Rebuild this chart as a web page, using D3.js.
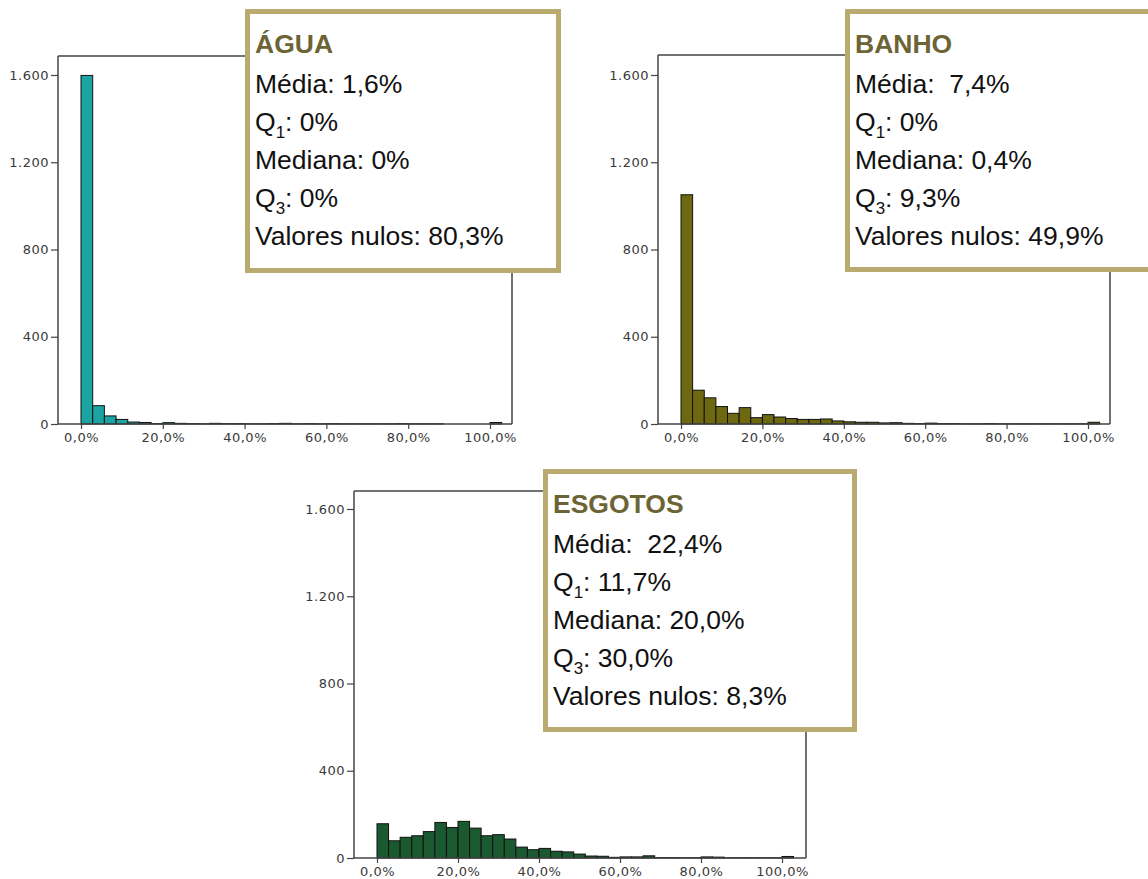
<!DOCTYPE html>
<html>
<head>
<meta charset="utf-8">
<script src="https://cdn.jsdelivr.net/npm/d3@7"></script>
<style>
  html, body { margin: 0; padding: 0; background: #fff; }
  svg { display: block; }
  .box text { white-space: pre; }
</style>
</head>
<body>
<svg id="chart" width="1148" height="879"></svg>
<script>
// ---- data ----
const binCount = 36;                    // histogram bins of 1/35 of the range
const binWidthPct = 100 / 35;
const aguaCounts    = [1598, 84, 37, 21, 9, 7, 2, 6, 3, 2, 1, 3, 2, 2, 1, 1, 2, 3, 1, 2, 1, 2, 1, 1, 1, 1, 1, 2, 1, 1, 1, 0, 0, 0, 0, 7];
const banhoCounts   = [1051, 155, 120, 80, 49, 75, 29, 43, 32, 25, 21, 21, 23, 14, 10, 8, 8, 5, 6, 3, 2, 4, 2, 2, 1, 1, 2, 1, 1, 1, 1, 1, 1, 1, 1, 8];
const esgotosCounts = [157, 79, 95, 102, 121, 163, 140, 168, 137, 102, 107, 87, 50, 38, 44, 31, 28, 18, 9, 8, 3, 5, 5, 10, 2, 2, 1, 1, 5, 4, 1, 1, 1, 1, 1, 7];
const yTicks = [0, 400, 800, 1200, 1600];
const yTickLabels = ["0", "400", "800", "1.200", "1.600"];
const xTicks = [0, 20, 40, 60, 80, 100];
const xTickLabels = ["0,0%", "20,0%", "40,0%", "60,0%", "80,0%", "100,0%"];
const titles = ["ÁGUA", "BANHO", "ESGOTOS"];
const medias = ["1,6%", " 7,4%", " 22,4%"];
const q1s = ["0%", "0%", "11,7%"];
const medianas = ["0%", "0,4%", "20,0%"];
const q3s = ["0%", "9,3%", "30,0%"];
const nulos = ["80,3%", "49,9%", "8,3%"];

// ---- layout ----
const panels = [
  { counts: aguaCounts,    color: "#1ba4a1", frame: {l: 58,  t: 56,  r: 512,  b: 424}, x0: 81,  x100: 490,  y1600: 75,  box: {l: 245, t: 9,   w: 316, h: 264} },
  { counts: banhoCounts,   color: "#6e6810", frame: {l: 658, t: 55,  r: 1110, b: 424}, x0: 681, x100: 1088, y1600: 75,  box: {l: 845, t: 9,   w: 316, h: 263} },
  { counts: esgotosCounts, color: "#1b5a30", frame: {l: 354, t: 491, r: 806,  b: 858}, x0: 377, x100: 782,  y1600: 509, box: {l: 543, t: 469, w: 314, h: 263} }
];

const svg = d3.select("#chart");

panels.forEach((p, i) => {
  const g = svg.append("g");
  const x = d3.scaleLinear().domain([0, 100]).range([p.x0, p.x100]);
  const y = d3.scaleLinear().domain([0, 1600]).range([p.frame.b, p.y1600]);

  const bins = p.counts.map((c, k) => ({ x0: k * binWidthPct, x1: (k + 1) * binWidthPct, c }));

  // bars
  g.selectAll("rect.bar").data(bins.filter(d => d.c > 0)).join("rect")
    .attr("class", "bar")
    .attr("x", d => x(d.x0))
    .attr("width", d => x(d.x1) - x(d.x0))
    .attr("y", d => y(d.c))
    .attr("height", d => y(0) - y(d.c))
    .attr("fill", p.color)
    .attr("stroke", "#111")
    .attr("stroke-width", 1);

  // frame (top and right)
  g.append("path")
    .attr("d", `M${p.frame.l},${p.frame.t}H${p.frame.r}V${p.frame.b}`)
    .attr("fill", "none").attr("stroke", "#444").attr("stroke-width", 1.5);

  // y axis
  const yAxis = d3.axisLeft(y).tickValues(yTicks)
    .tickFormat((d, k) => yTickLabels[k]).tickSize(7).tickPadding(2);
  const ya = g.append("g").attr("transform", `translate(${p.frame.l},0)`).call(yAxis);
  ya.select(".domain").attr("d", `M0,${p.frame.t}V${p.frame.b}`).attr("stroke", "#444").attr("stroke-width", 1.5);

  // x axis
  const xAxis = d3.axisBottom(x).tickValues(xTicks)
    .tickFormat((d, k) => xTickLabels[k]).tickSize(5).tickPadding(4);
  const xa = g.append("g").attr("transform", `translate(0,${p.frame.b})`).call(xAxis);
  xa.select(".domain").attr("d", `M${p.frame.l},0H${p.frame.r}`).attr("stroke", "#444").attr("stroke-width", 1.5);

  [ya, xa].forEach(a => {
    a.selectAll(".tick line").attr("stroke", "#444").attr("stroke-width", 1.2);
    a.selectAll(".tick text")
      .attr("fill", "#3a3a3a")
      .style("font-family", "'DejaVu Sans', Verdana, sans-serif")
      .style("font-size", "13px")
      .style("letter-spacing", "0.5px");
  });

  // info box
  const b = p.box;
  const bg = svg.append("g").attr("class", "box");
  bg.append("rect")
    .attr("x", b.l + 2.5).attr("y", b.t + 2.5)
    .attr("width", b.w - 5).attr("height", b.h - 5)
    .attr("fill", "#fff").attr("stroke", "#b9aa70").attr("stroke-width", 5);

  const tx = b.l + 10;
  const font = "'Liberation Sans', Arial, sans-serif";
  bg.append("text").attr("x", tx).attr("y", b.t + 44)
    .style("font-family", font).style("font-size", "26.5px").style("font-weight", "bold")
    .attr("fill", "#6d6436").text(titles[i]);

  const lines = [
    [["Média: " + medias[i]]],
    [["Q"], ["1", "sub"], [": " + q1s[i]]],
    [["Mediana: " + medianas[i]]],
    [["Q"], ["3", "sub"], [": " + q3s[i]]],
    [["Valores nulos: " + nulos[i]]]
  ];
  lines.forEach((parts, j) => {
    const t = bg.append("text").attr("x", tx).attr("y", b.t + 84 + j * 38)
      .style("font-family", font).style("font-size", "26.5px").attr("fill", "#111");
    parts.forEach(([s, kind]) => {
      if (kind === "sub") {
        t.append("tspan").attr("dy", 7).style("font-size", "17px").text(s);
      } else if (parts.length > 1 && s.startsWith(":")) {
        t.append("tspan").attr("dy", -7).text(s);
      } else {
        t.append("tspan").text(s);
      }
    });
  });
});
</script>
</body>
</html>
